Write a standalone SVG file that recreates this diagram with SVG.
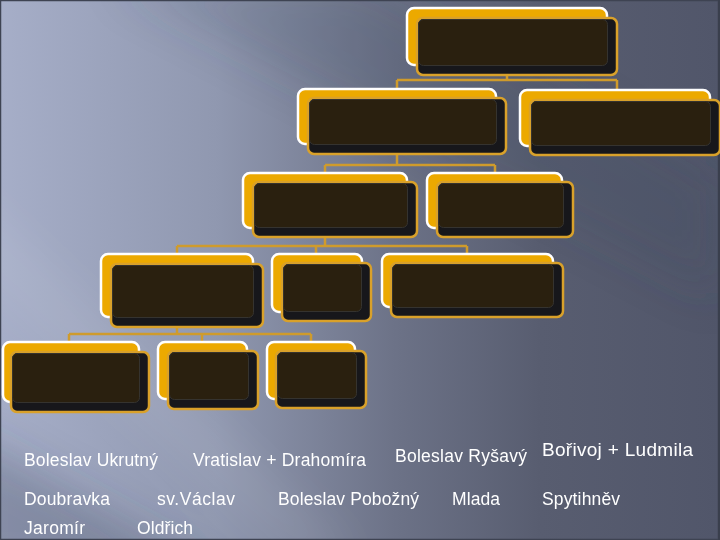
<svg xmlns="http://www.w3.org/2000/svg" width="720" height="540" viewBox="0 0 720 540">
  <defs>
    <linearGradient id="bg" x1="0" y1="0" x2="720" y2="0" gradientUnits="userSpaceOnUse">
      <stop offset="0" stop-color="#a6aec8"/>
      <stop offset="0.3" stop-color="#9098b0"/>
      <stop offset="0.55" stop-color="#6c7287"/>
      <stop offset="0.75" stop-color="#585d70"/>
      <stop offset="1" stop-color="#51566a"/>
    </linearGradient>
    <filter id="blur" x="-20%" y="-20%" width="140%" height="140%">
      <feGaussianBlur stdDeviation="22"/>
    </filter>
    <style>
      .back { fill: #ECA900; stroke: #ffffff; stroke-width: 2.5; }
      .front { fill: #17171b; stroke: #D9A12A; stroke-width: 2.5; }
      .inner { fill: #2a200f; stroke: #35332f; stroke-width: 1; }
      .conn { fill: none; stroke: #CF9B2C; stroke-width: 2.5; }
      .lbl { fill: #ffffff; font-family: "Liberation Sans", Arial, sans-serif; font-size: 17.5px; }
    </style>
  </defs>

  <!-- background -->
  <rect x="0" y="0" width="720" height="540" fill="url(#bg)"/>
  <g filter="url(#blur)">
    <polygon points="110,-20 360,-20 720,180 720,300" fill="#3c4156" opacity="0.18"/>
    <polygon points="-40,180 -40,260 300,560 360,560" fill="#ffffff" opacity="0.08"/>
    <polygon points="-40,430 -40,580 230,580" fill="#3c4156" opacity="0.3"/>
  </g>
  <rect x="0.5" y="0.5" width="718" height="539" fill="none" stroke="#3e4352" stroke-width="1.5"/>
  <line x1="719" y1="0" x2="719" y2="540" stroke="#3a3f4d" stroke-width="2"/>

  <!-- connectors -->
  <g id="connectors" class="conn">
    <path d="M507,65 V80 M397,80 H617 M397,80 V89 M617,80 V90"/>
    <path d="M397,144 V165 M325,165 H495 M325,165 V173 M495,165 V173"/>
    <path d="M325,228 V246 M177,246 H467 M177,246 V254 M316,246 V254 M467,246 V254"/>
    <path d="M177,317 V334 M69,334 H311 M69,334 V342 M202,334 V342 M311,334 V342"/>
  </g>

  <!-- nodes -->
  <g id="n1">
    <rect class="back" x="407" y="8" width="200" height="57" rx="7"/>
    <rect class="front" x="417" y="18" width="200" height="57" rx="6"/>
    <rect class="inner" x="418.5" y="19.5" width="189" height="46" rx="5"/>
  </g>
  <g id="n2">
    <rect class="back" x="520" y="90" width="190" height="56" rx="7"/>
    <rect class="front" x="530" y="100" width="190" height="55" rx="6"/>
    <rect class="inner" x="531.5" y="101.5" width="179" height="44" rx="5"/>
  </g>
  <g id="n3">
    <rect class="back" x="298" y="89" width="198" height="55" rx="7"/>
    <rect class="front" x="308" y="98" width="198" height="56" rx="6"/>
    <rect class="inner" x="309.5" y="99.5" width="187" height="45" rx="5"/>
  </g>
  <g id="n4">
    <rect class="back" x="243" y="173" width="164" height="55" rx="7"/>
    <rect class="front" x="253" y="182" width="164" height="55" rx="6"/>
    <rect class="inner" x="254.5" y="183.5" width="153" height="44" rx="5"/>
  </g>
  <g id="n5">
    <rect class="back" x="427" y="173" width="135" height="55" rx="7"/>
    <rect class="front" x="437" y="182" width="136" height="55" rx="6"/>
    <rect class="inner" x="438.5" y="183.5" width="125" height="44" rx="5"/>
  </g>
  <g id="n6">
    <rect class="back" x="101" y="254" width="152" height="63" rx="7"/>
    <rect class="front" x="111" y="264" width="152" height="63" rx="6"/>
    <rect class="inner" x="112.5" y="265.5" width="141" height="52" rx="5"/>
  </g>
  <g id="n7">
    <rect class="back" x="272" y="254" width="90" height="58" rx="7"/>
    <rect class="front" x="282" y="263" width="89" height="58" rx="6"/>
    <rect class="inner" x="283.5" y="264.5" width="78" height="47" rx="5"/>
  </g>
  <g id="n8">
    <rect class="back" x="382" y="254" width="171" height="53" rx="7"/>
    <rect class="front" x="391" y="263" width="172" height="54" rx="6"/>
    <rect class="inner" x="392.5" y="264.5" width="161" height="43" rx="5"/>
  </g>
  <g id="n9">
    <rect class="back" x="3" y="342" width="136" height="60" rx="7"/>
    <rect class="front" x="11" y="352" width="138" height="60" rx="6"/>
    <rect class="inner" x="12.5" y="353.5" width="127" height="49" rx="5"/>
  </g>
  <g id="n10">
    <rect class="back" x="158" y="342" width="89" height="57" rx="7"/>
    <rect class="front" x="168" y="351" width="90" height="58" rx="6"/>
    <rect class="inner" x="169.5" y="352.5" width="79" height="47" rx="5"/>
  </g>
  <g id="n11">
    <rect class="back" x="267" y="342" width="88" height="57" rx="7"/>
    <rect class="front" x="276" y="351" width="90" height="57" rx="6"/>
    <rect class="inner" x="277.5" y="352.5" width="79" height="46" rx="5"/>
  </g>

  <!-- labels -->
  <g id="labels" class="lbl">
    <text x="24" y="466" textLength="134">Boleslav Ukrutný</text>
    <text x="193" y="466" textLength="173">Vratislav + Drahomíra</text>
    <text x="395" y="462" textLength="132">Boleslav Ryšavý</text>
    <text x="542" y="456" textLength="151" style="font-size:19px">Bořivoj + Ludmila</text>
    <text x="24" y="505" textLength="86">Doubravka</text>
    <text x="157" y="505" textLength="78">sv.Václav</text>
    <text x="278" y="505" textLength="141">Boleslav Pobožný</text>
    <text x="452" y="505" textLength="48">Mlada</text>
    <text x="542" y="505" textLength="78">Spytihněv</text>
    <text x="24" y="534" textLength="61">Jaromír</text>
    <text x="137" y="534" textLength="56">Oldřich</text>
  </g>
</svg>
